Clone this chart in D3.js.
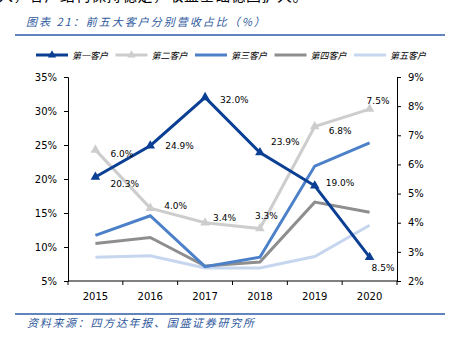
<!DOCTYPE html>
<html>
<head>
<meta charset="utf-8">
<script src="https://cdn.jsdelivr.net/npm/d3@7.9.0/dist/d3.min.js"></script>
<style>
  body { margin: 0; background: #fff; }
  svg { display: block; }
  .tick text { font-family: "DejaVu Sans", sans-serif; font-size: 10px; fill: #000; }
</style>
</head>
<body>
<svg id="chart" width="452" height="341"></svg>
<script>
const years = ['2015', '2016', '2017', '2018', '2019', '2020'];
const leftTicks = [5, 10, 15, 20, 25, 30, 35];
const rightTicks = [2, 3, 4, 5, 6, 7, 8, 9];

// values (%)
const cust1 = [20.3, 24.9, 32.0, 23.9, 19.0, 8.5];
const cust2 = [6.5, 4.5, 4.0, 3.8, 7.3, 7.9];   // right axis, as drawn
const cust3 = [11.7, 14.6, 7.1, 8.5, 21.9, 25.3];
const cust4 = [10.5, 11.4, 7.2, 7.8, 16.6, 15.1];
const cust5 = [8.5, 8.7, 6.9, 6.9, 8.6, 13.2];
const labels1 = ['20.3%', '24.9%', '32.0%', '23.9%', '19.0%', '8.5%'];
const labels2 = ['6.0%', '4.0%', '3.4%', '3.3%', '6.8%', '7.5%'];
const names = ['第一客户', '第二客户', '第三客户', '第四客户', '第五客户'];

const colors = ['#0b3f94', '#cdcdcd', '#4c80c8', '#8e8e8e', '#c6d6ee'];

const svg = d3.select('#chart');
const plotL = 68, plotR = 397, plotT = 77, plotB = 281;

const x = d3.scaleBand().domain(years).range([plotL, plotR]);
const yL = d3.scaleLinear().domain([5, 35]).range([plotB, plotT]);
const yR = d3.scaleLinear().domain([2, 9]).range([plotB, plotT]);

// cut-off text from the page above
svg.append('text')
  .attr('x', -2).attr('y', 1)
  .attr('font-family', 'Noto Sans CJK SC').attr('font-size', 15).attr('letter-spacing', 0.5)
  .text('入，客户结构保持稳定，收益基础稳固扩大。');

// title + rules
svg.append('text')
  .attr('x', 26).attr('y', 26)
  .attr('font-family', 'Noto Sans CJK SC').attr('font-size', 11).attr('letter-spacing', 2)
  .attr('font-style', 'italic').attr('fill', '#2f5a9e')
  .text('图表 21：前五大客户分别营收占比（%）');
svg.append('line').attr('x1', 15).attr('x2', 445).attr('y1', 35).attr('y2', 35)
  .attr('stroke', '#2d5ba6').attr('stroke-width', 1.5);
svg.append('line').attr('x1', 15).attr('x2', 445).attr('y1', 314).attr('y2', 314)
  .attr('stroke', '#2d5ba6').attr('stroke-width', 1.5);
svg.append('text')
  .attr('x', 27).attr('y', 327)
  .attr('font-family', 'Noto Sans CJK SC').attr('font-size', 11).attr('letter-spacing', 1.7)
  .attr('font-style', 'italic').attr('fill', '#2f5a9e')
  .text('资料来源：四方达年报、国盛证券研究所');

// axes
svg.append('g').attr('transform', `translate(${plotL},0)`)
  .call(d3.axisLeft(yL).tickValues(leftTicks).tickFormat(d => d + '%').tickSize(4).tickPadding(7))
  .call(g => g.select('.domain').attr('stroke', '#000'));
svg.append('g').attr('transform', `translate(${plotR},0)`)
  .call(d3.axisRight(yR).tickValues(rightTicks).tickFormat(d => d + '%').tickSize(4).tickPadding(7))
  .call(g => g.select('.domain').attr('stroke', '#000'));

const xAxis = svg.append('g').attr('transform', `translate(0,${plotB})`);
xAxis.append('line').attr('x1', plotL).attr('x2', plotR).attr('stroke', '#000');
const edges = years.map(d => x(d)).concat([plotR]);
xAxis.selectAll('.xt').data(edges).join('line')
  .attr('x1', d => d).attr('x2', d => d).attr('y1', 0).attr('y2', 4).attr('stroke', '#000');
xAxis.selectAll('.xl').data(years).join('text')
  .attr('x', d => x(d) + x.bandwidth() / 2).attr('y', 19)
  .attr('text-anchor', 'middle')
  .attr('font-family', 'DejaVu Sans').attr('font-size', 10)
  .text(d => d);

const cx = d => x(d) + x.bandwidth() / 2;
const series = [
  { vals: cust5, y: yL, color: colors[4] },
  { vals: cust4, y: yL, color: colors[3] },
  { vals: cust3, y: yL, color: colors[2] },
  { vals: cust2, y: yR, color: colors[1], marker: true },
  { vals: cust1, y: yL, color: colors[0], marker: true }
];

series.forEach(s => {
  const line = d3.line().x((d, i) => cx(years[i])).y(d => s.y(d));
  svg.append('path').datum(s.vals)
    .attr('d', line).attr('fill', 'none')
    .attr('stroke', s.color).attr('stroke-width', 3).attr('stroke-linejoin', 'miter');
  if (s.marker) {
    svg.selectAll(null).data(s.vals).join('path')
      .attr('d', d3.symbol(d3.symbolTriangle, 40))
      .attr('transform', (d, i) => `translate(${cx(years[i])},${s.y(d)})`)
      .attr('fill', s.color);
  }
});

// data labels
const off1 = [[15, 7], [15, 0], [15, 3], [11, -10], [11, -3], [2, 11]];
const off2 = [[15, 4], [14, -2], [8, -5], [-5, -13], [14, 4], [-3, -8]];
const lab = svg.append('g').attr('font-family', 'DejaVu Sans').attr('font-size', 9);
cust1.forEach((v, i) => {
  lab.append('text').attr('x', cx(years[i]) + off1[i][0]).attr('y', yL(v) + off1[i][1] + 3)
    .text(labels1[i]);
});
cust2.forEach((v, i) => {
  lab.append('text').attr('x', cx(years[i]) + off2[i][0]).attr('y', yR(v) + off2[i][1] + 3)
    .text(labels2[i]);
});

// legend
const lg = svg.append('g').attr('transform', 'translate(36,55)');
names.forEach((n, i) => {
  const g = lg.append('g').attr('transform', `translate(${i * 79.5},0)`);
  g.append('line').attr('x1', 0).attr('x2', 32).attr('stroke', colors[i]).attr('stroke-width', 3);
  if (i < 2) g.append('path').attr('d', d3.symbol(d3.symbolTriangle, 30)).attr('transform', 'translate(16,0)').attr('fill', colors[i]);
  g.append('text').attr('x', 36).attr('y', 3.5)
    .attr('font-family', 'Noto Sans CJK SC').attr('font-size', 9).attr('font-style', 'italic')
    .text(n);
});
</script>
</body>
</html>
